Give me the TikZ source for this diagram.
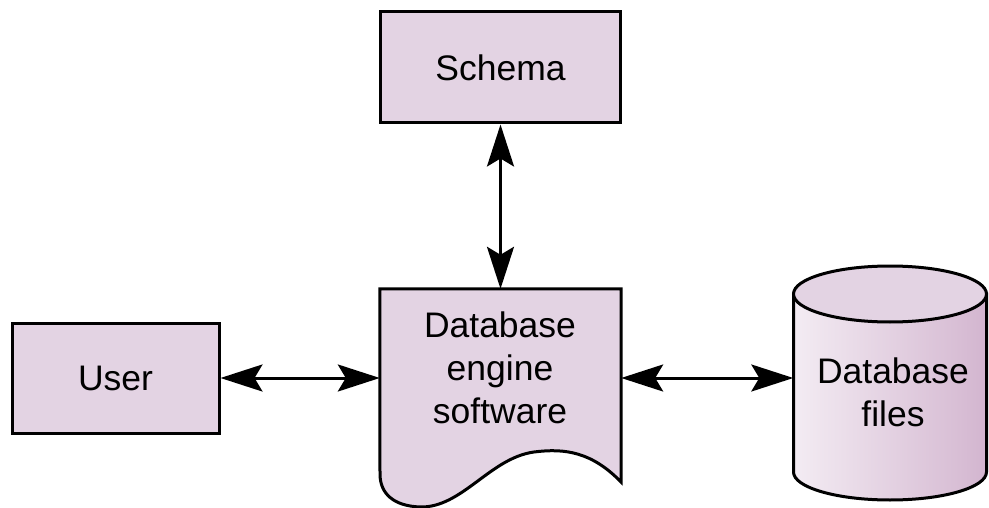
\documentclass[tikz,border=0pt]{standalone}
\usepackage{fontspec}
\setmainfont{Liberation Sans}
\usetikzlibrary{arrows.meta}
\definecolor{boxfill}{HTML}{E3D3E3}
\definecolor{cylA}{HTML}{DCC8DB}
\definecolor{cylB}{HTML}{F5EFF5}
\definecolor{cylC}{HTML}{D8BED5}
\definecolor{cylD}{HTML}{BE94BA}
\pgfdeclarehorizontalshading{cylshade}{100bp}{color(0bp)=(cylA); color(22bp)=(cylB); color(68bp)=(cylC); color(100bp)=(cylD)}
\tikzset{
  box/.style={draw=black, line width=3pt, fill=boxfill, inner sep=0pt, font=\fontsize{35.5}{43}\selectfont},
  shapebox/.style={inner sep=0pt},
  lbl/.style={inner sep=0pt, align=center, font=\fontsize{35.5}{43}\selectfont},
  conn/.style={line width=3pt, {Stealth[length=42pt,width=27pt,inset=8pt]}-{Stealth[length=42pt,width=27pt,inset=8pt]}},
}
\begin{document}
\begin{tikzpicture}[x=1pt,y=-1pt]
\useasboundingbox (0,0) rectangle (989,508);
% Schema
\node[box, minimum width=240pt, minimum height=111pt] (schema) at (500.5,67.5) {Schema};
% User
\node[box, minimum width=207pt, minimum height=110pt] (user) at (115.5,378) {User};
% Engine (document shape)
\node[shapebox, minimum width=241pt, minimum height=193pt] (engine) at (500.5,385.5) {};
\draw[line width=3pt, fill=boxfill, line join=miter]
  (engine.north west) -- (engine.north east) -- (621,482)
  .. controls (592,452) and (565,448) .. (534,452)
  .. controls (490,458) and (462,508) .. (420,507)
  .. controls (394,506) and (380,494) .. (380,474) -- cycle;
\node[lbl] (enginetext) at (500,368) {Database\\engine\\software};
% Cylinder
\node[shapebox, minimum width=193pt, minimum height=234pt] (cyl) at (890,383) {};
\path[shading=cylshade, draw=black, line width=3pt]
  (793.5,294) -- (793.5,472)
  arc[start angle=180, end angle=360, x radius=96.5pt, y radius=28pt]
  -- (986.5,294) -- cycle;
\draw[line width=3pt, fill=boxfill] (890,294) ellipse[x radius=96.5pt, y radius=28pt];
\node[lbl] (cyltext) at (893,392) {Database\\files};
% Connectors
\draw[conn] (schema.south) -- (engine.north);
\draw[conn] (user.east) -- (engine.west |- user.east);
\draw[conn] (engine.east |- user.east) -- (cyl.west |- user.east);
\end{tikzpicture}
\end{document}
